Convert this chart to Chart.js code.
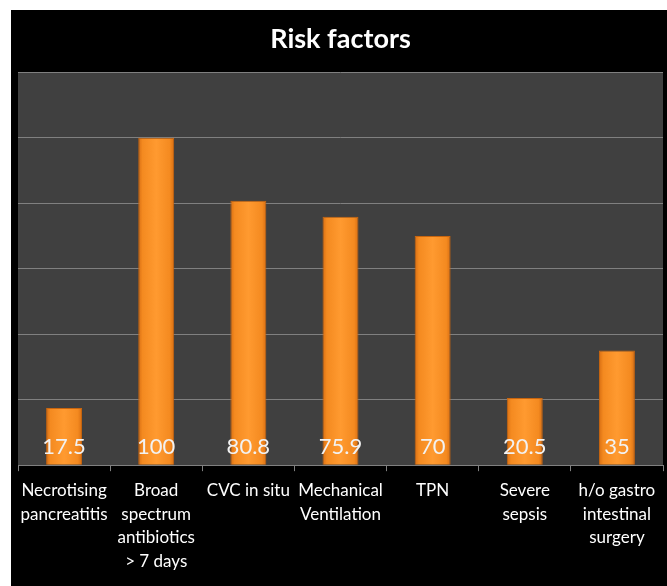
<!DOCTYPE html>
<html>
<head>
<meta charset="utf-8">
<script src="https://cdn.jsdelivr.net/npm/chart.js@4/dist/chart.umd.min.js"></script>
<style>
  html, body { margin: 0; padding: 0; background: #ffffff; width: 667px; height: 586px; overflow: hidden; }
  #box { position: absolute; left: 11px; top: 10px; width: 656px; height: 576px; background: #000000; }
  canvas { display: block; }
</style>
</head>
<body>
<div id="box"><canvas id="c" width="656" height="576"></canvas></div>
<script>
const categories = [
  ["Necrotising", "pancreatitis"],
  ["Broad", "spectrum", "antibiotics", "> 7 days"],
  ["CVC in situ"],
  ["Mechanical", "Ventilation"],
  ["TPN"],
  ["Severe", "sepsis"],
  ["h/o gastro", "intestinal", "surgery"]
];
const values = [17.5, 100, 80.8, 75.9, 70, 20.5, 35];
const valueLabels = ["17.5", "100", "80.8", "75.9", "70", "20.5", "35"];
const yTicks = [0, 20, 40, 60, 80, 100, 120];

const BAR_PCT = 0.39;

function barFill(ctx) {
  const chart = ctx.chart;
  const xs = chart.scales && chart.scales.x;
  if (!xs || ctx.dataIndex === undefined) return '#f7941d';
  const cx = xs.getPixelForValue(ctx.dataIndex);
  const w = xs.width / categories.length * BAR_PCT;
  if (!isFinite(cx) || !isFinite(w) || w <= 0) return '#f7941d';
  const g = chart.ctx.createLinearGradient(cx - w / 2, 0, cx + w / 2, 0);
  g.addColorStop(0, '#d86e12');
  g.addColorStop(0.12, '#f48a20');
  g.addColorStop(0.5, '#ff9a30');
  g.addColorStop(0.88, '#f48a20');
  g.addColorStop(1, '#d86e12');
  return g;
}

const plotBg = {
  id: 'plotBg',
  beforeDraw(chart) {
    const a = chart.chartArea, c = chart.ctx;
    c.save();
    c.fillStyle = '#404040';
    c.fillRect(a.left, a.top, a.right - a.left, a.bottom - a.top);
    c.restore();
  }
};

const valueLabelPlugin = {
  id: 'valueLabelPlugin',
  afterDatasetsDraw(chart) {
    const c = chart.ctx;
    const meta = chart.getDatasetMeta(0);
    const base = chart.scales.y.getPixelForValue(0);
    c.save();
    c.font = '22px Lato';
    c.fillStyle = '#f2f2f2';
    c.textAlign = 'center';
    c.textBaseline = 'alphabetic';
    meta.data.forEach((el, i) => {
      c.fillText(valueLabels[i], el.x, base - 11);
    });
    c.restore();
  }
};

const chart = new Chart(document.getElementById('c'), {
  type: 'bar',
  data: {
    labels: categories,
    datasets: [{
      data: values,
      backgroundColor: barFill,
      borderColor: '#c8650f',
      borderWidth: 1,
      categoryPercentage: 1,
      barPercentage: BAR_PCT
    }]
  },
  options: {
    responsive: false,
    devicePixelRatio: 1,
    animation: false,
    layout: { padding: { left: 7, right: 4, top: 0, bottom: 5 } },
    plugins: {
      legend: { display: false },
      tooltip: { enabled: false },
      title: {
        display: true,
        text: 'Risk factors',
        color: '#ffffff',
        font: { family: 'Lato', size: 27, weight: 'bold', lineHeight: 1.2 },
        padding: { top: 13, bottom: 17 }
      }
    },
    scales: {
      x: {
        grid: { offset: true, drawOnChartArea: false, drawTicks: true, tickLength: 6, color: '#808080' },
        border: { display: true, color: '#808080', width: 1 },
        ticks: {
          color: '#ffffff',
          font: { family: 'Lato', size: 17, lineHeight: 1.38 },
          padding: 8,
          autoSkip: false,
          maxRotation: 0,
          minRotation: 0
        }
      },
      y: {
        min: yTicks[0],
        max: yTicks[yTicks.length - 1],
        afterBuildTicks(scale) { scale.ticks = yTicks.map(v => ({ value: v })); },
        ticks: { display: false },
        grid: { color: '#808080', lineWidth: 1, drawTicks: false },
        border: { display: false }
      }
    }
  },
  plugins: [plotBg, valueLabelPlugin]
});
chart.update();
</script>
</body>
</html>
